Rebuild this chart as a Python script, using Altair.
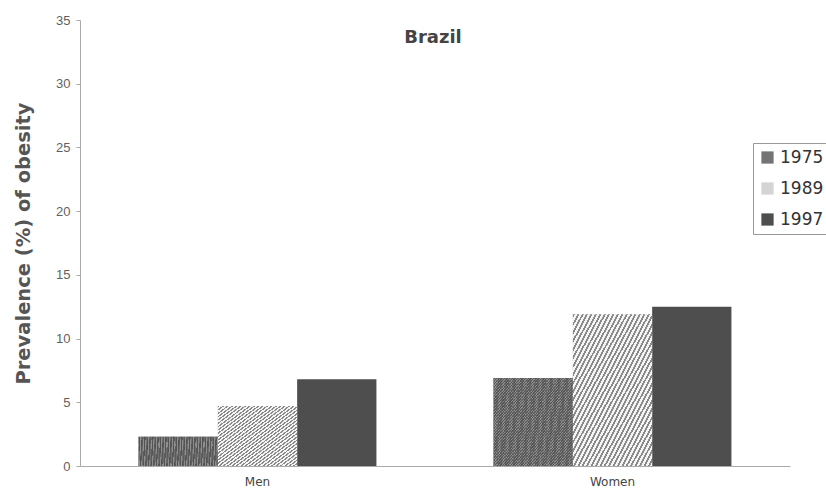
import altair as alt
import pandas as pd

# Prevalence (%) of obesity in Brazil by sex and survey year
groups = ["Men", "Women"]
years = ["1975", "1989", "1997"]
men = [2.3, 4.7, 6.8]
women = [6.9, 11.9, 12.5]

rows = []
for g, vals in zip(groups, [men, women]):
    for yr, v in zip(years, vals):
        rows.append({"group": g, "year": yr, "value": v})
df = pd.DataFrame(rows)

year_colors = ["#747474", "#d4d4d4", "#4e4e4e"]


def stripes(n, line, gap, frac, direction):
    """Repeating linear-gradient stripes used as a hatch fill."""
    if direction == "up":
        x1, y1, x2, y2 = 0, 0, 1, 1
    else:
        x1, y1, x2, y2 = 0, 1, 1, 0
    stops = []
    for i in range(n):
        a = round(i / n, 5)
        b = round((i + frac) / n, 5)
        c = round((i + 1) / n, 5)
        stops += [
            {"offset": a, "color": line},
            {"offset": b, "color": line},
            {"offset": b, "color": gap},
            {"offset": c, "color": gap},
        ]
    return {"gradient": "linear", "x1": x1, "y1": y1, "x2": x2, "y2": y2, "stops": stops}


base = alt.Chart(df).encode(
    x=alt.X(
        "group:N",
        sort=groups,
        scale=alt.Scale(paddingInner=0.33, paddingOuter=0.165),
        axis=alt.Axis(
            title=None,
            labelAngle=0,
            ticks=False,
            labelFont="DejaVu Sans",
            labelFontSize=12,
            labelColor="#444444",
            labelPadding=10,
            domainColor="#aaaaaa",
        ),
    ),
    xOffset=alt.XOffset("year:N", sort=years, scale=alt.Scale(paddingInner=0, paddingOuter=0)),
    y=alt.Y(
        "value:Q",
        scale=alt.Scale(domain=[0, 35], nice=False),
        axis=alt.Axis(
            title="Prevalence (%) of obesity",
            values=[0, 5, 10, 15, 20, 25, 30, 35],
            grid=False,
            tickSize=4,
            tickColor="#aaaaaa",
            domainColor="#aaaaaa",
            labelFont="Liberation Sans",
            labelFontSize=13,
            labelColor="#5f5f5f",
            labelPadding=6,
            titleFont="DejaVu Sans",
            titleFontSize=19.5,
            titleFontWeight="bold",
            titleColor="#555555",
            titlePadding=22,
        ),
    ),
)

bars = base.mark_bar().encode(
    color=alt.Color(
        "year:N",
        sort=years,
        scale=alt.Scale(domain=years, range=year_colors),
        legend=alt.Legend(
            title=None,
            orient="none",
            legendX=673,
            legendY=123,
            symbolType="square",
            symbolSize=150,
            symbolStrokeWidth=0,
            labelFont="DejaVu Sans",
            labelFontSize=17,
            labelColor="#333333",
            labelOffset=4,
            strokeColor="#999999",
            padding=6,
            rowPadding=13,
        ),
    )
)

# 1989: light diagonal hatch
hatch_1989 = base.transform_filter("datum.year == '1989'").mark_bar(
    fill=stripes(36, "#8a8a8a", "#f4f4f4", 0.45, "up")
)

# 1975: fine cross-hatch over a mid grey
cross_1975_a = base.transform_filter("datum.year == '1975'").mark_bar(
    fill=stripes(60, "#5c5c5c", "#8e8e8e", 0.5, "up")
)
cross_1975_b = base.transform_filter("datum.year == '1975'").mark_bar(
    fill=stripes(60, "#4a4a4a", "rgba(0,0,0,0)", 0.5, "down"), opacity=0.45
)

title = alt.Chart(pd.DataFrame({"t": ["Brazil"]})).mark_text(
    font="DejaVu Sans", fontSize=18, fontWeight="bold", color="#444444", baseline="middle"
).encode(text="t:N", x=alt.value(353), y=alt.value(18))

chart = (
    alt.layer(bars, cross_1975_a, cross_1975_b, hatch_1989, title)
    .properties(
        width=710,
        height=446,
        autosize=alt.AutoSizeParams(type="none"),
        padding={"left": 80, "top": 20, "right": 36, "bottom": 35},
        background="white",
    )
    .configure_view(stroke=None)
)

chart.save("out.html", embed_options={"renderer": "svg", "actions": False})
